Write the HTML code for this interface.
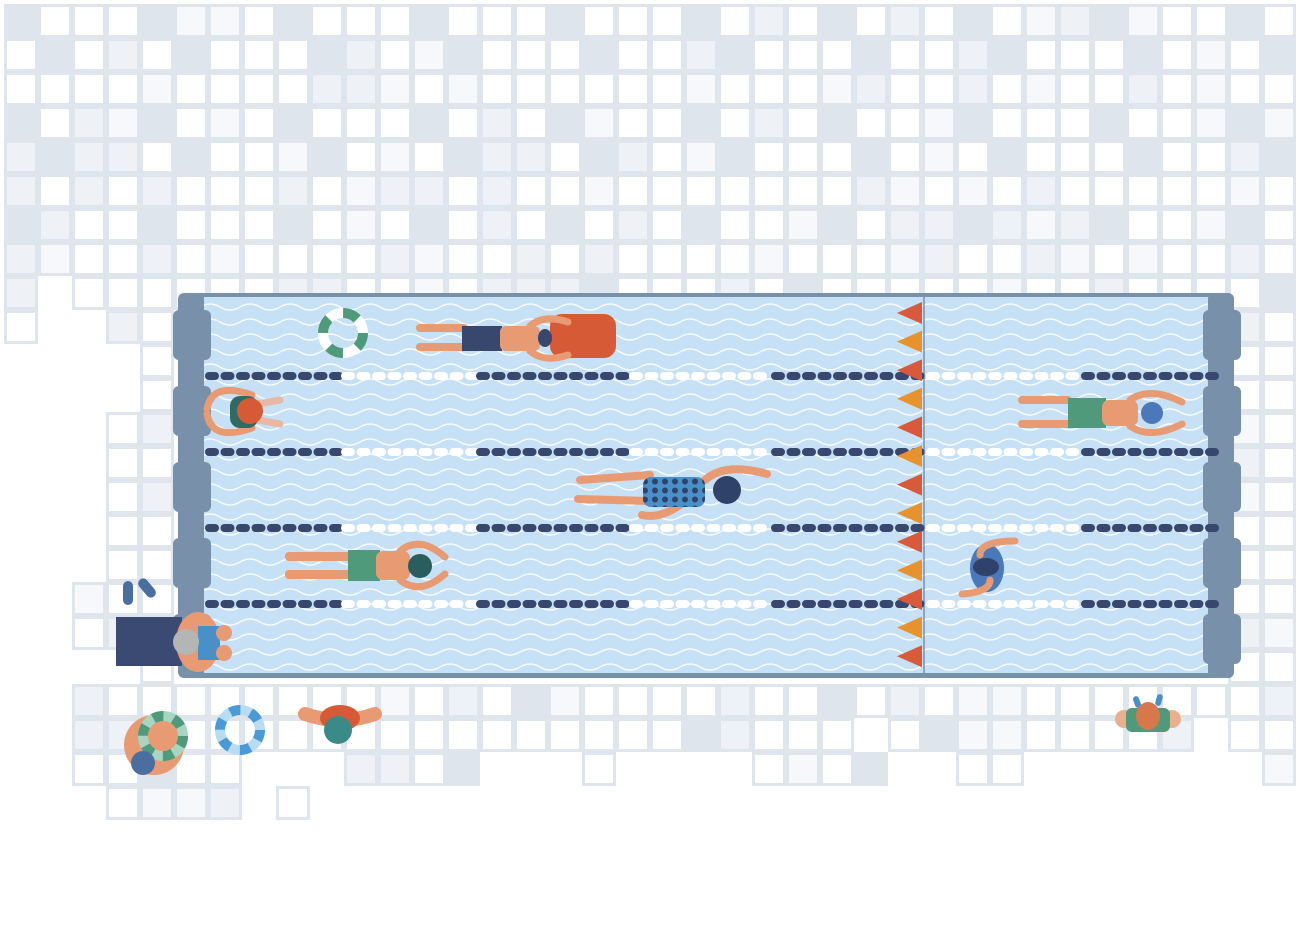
<!DOCTYPE html>
<html><head><meta charset="utf-8"><style>
html,body{margin:0;padding:0;background:#fff;width:1300px;height:951px;overflow:hidden}
svg{display:block}
</style></head><body>
<svg id="s" width="1300" height="951" viewBox="0 0 1300 951" xmlns="http://www.w3.org/2000/svg">
<defs>
<pattern id="wave" x="0" y="300" width="40" height="15" patternUnits="userSpaceOnUse">
<path d="M0 7 q10 -6 20 0 t20 0" fill="none" stroke="#fff" stroke-width="1.4" opacity="0.9"/>
</pattern>
<pattern id="dots" width="10" height="9" patternUnits="userSpaceOnUse">
<rect width="10" height="9" fill="#4a90c8"/><circle cx="5" cy="4.5" r="3" fill="#2f4269"/>
</pattern>
</defs>
<g id="tiles"></g>
<rect x="178" y="293" width="1056" height="385" rx="6" fill="#7890aa"/>
<rect x="204" y="297" width="1005" height="376" fill="#c6e0f5"/>
<rect x="204" y="297" width="1005" height="376" fill="url(#wave)"/>
<line x1="924" y1="297" x2="924" y2="673" stroke="#7890aa" stroke-width="1.5"/>
<g id="bump" fill="#7890aa"></g>
<g id="ropes"></g>
<g id="flags"></g>
<circle cx="343" cy="333" r="20" fill="none" stroke="#fff" stroke-width="10"/>
<circle cx="343" cy="333" r="20" fill="none" stroke="#4e9a7a" stroke-width="10" stroke-dasharray="15.7 15.7"/>
<g>
<rect x="550" y="314" width="66" height="44" rx="12" fill="#d65a36"/>
<rect x="416" y="324" width="52" height="8" rx="4" fill="#e89a72"/>
<rect x="416" y="343" width="52" height="8" rx="4" fill="#e89a72"/>
<rect x="462" y="326" width="40" height="25" fill="#37476e"/>
<rect x="500" y="326" width="40" height="25" rx="6" fill="#e89a72"/>
<path d="M530 326 q14 -12 38 -4 M530 351 q14 12 38 4" stroke="#e89a72" stroke-width="7" fill="none" stroke-linecap="round"/>
<ellipse cx="545" cy="338" rx="7" ry="9" fill="#37476e"/>
</g>
<g>
<path d="M252 395 q-40 -14 -45 14 M252 428 q-40 14 -45 -14" stroke="#e89a72" stroke-width="7" fill="none" stroke-linecap="round"/>
<path d="M258 404 l22 -4 M258 420 l22 4" stroke="#e8b8a4" stroke-width="7" stroke-linecap="round"/>
<rect x="230" y="396" width="28" height="32" rx="10" fill="#2f6b60"/>
<circle cx="250" cy="411" r="13" fill="#d65a36"/>
</g>
<g>
<rect x="1018" y="396" width="54" height="8" rx="4" fill="#e89a72"/>
<rect x="1018" y="420" width="54" height="8" rx="4" fill="#e89a72"/>
<rect x="1068" y="398" width="38" height="30" fill="#4e9a7a"/>
<rect x="1102" y="400" width="36" height="26" rx="7" fill="#e89a72"/>
<path d="M1130 400 q20 -14 52 2 M1130 426 q20 14 52 -2" stroke="#e89a72" stroke-width="7" fill="none" stroke-linecap="round"/>
<circle cx="1152" cy="413" r="11" fill="#4a78b8"/>
</g>
<g>
<path d="M580 480 l70 -5 M578 499 l70 2" stroke="#e89a72" stroke-width="8" stroke-linecap="round"/>
<path d="M705 480 q20 -18 62 -6 M680 505 q-20 14 -38 10" stroke="#e89a72" stroke-width="8" fill="none" stroke-linecap="round"/>
<rect x="643" y="477" width="62" height="30" rx="8" fill="url(#dots)"/>
<circle cx="727" cy="490" r="14" fill="#2f4269"/>
</g>
<g>
<rect x="285" y="552" width="68" height="9" rx="4" fill="#e89a72"/>
<rect x="285" y="570" width="68" height="9" rx="4" fill="#e89a72"/>
<rect x="348" y="550" width="32" height="31" fill="#4e9a7a"/>
<rect x="376" y="551" width="34" height="29" rx="7" fill="#e89a72"/>
<path d="M400 551 q20 -16 45 6 M400 580 q20 16 45 -6" stroke="#e89a72" stroke-width="7" fill="none" stroke-linecap="round"/>
<circle cx="420" cy="566" r="12" fill="#2a5d5d"/>
</g>
<g>
<ellipse cx="987" cy="568" rx="17" ry="24" fill="#4a78b8"/>
<path d="M980 555 q0 -14 35 -14 M990 580 q0 12 -28 14" stroke="#e89a72" stroke-width="7" fill="none" stroke-linecap="round"/>
<ellipse cx="986" cy="567" rx="13" ry="9" fill="#2f4269"/>
</g>
<rect x="116" y="617" width="66" height="49" fill="#3a4a72"/>
<g>
<ellipse cx="198" cy="642" rx="22" ry="30" fill="#e89a72"/>
<rect x="198" y="626" width="22" height="34" fill="#4a90c8"/>
<circle cx="224" cy="633" r="8" fill="#e89a72"/><circle cx="224" cy="653" r="8" fill="#e89a72"/>
<circle cx="186" cy="642" r="13" fill="#b4b6b6"/>
</g>
<rect x="123" y="581" width="10" height="24" rx="5" fill="#4a6ea0"/>
<rect x="142" y="577" width="10" height="22" rx="5" fill="#4a6ea0" transform="rotate(-40 147 588)"/>
<circle cx="154" cy="745" r="30" fill="#e89a72"/>
<circle cx="163" cy="736" r="20" fill="none" stroke="#a8d5c2" stroke-width="10"/>
<circle cx="163" cy="736" r="20" fill="none" stroke="#4e9a7a" stroke-width="10" stroke-dasharray="10.5 10.5"/>
<circle cx="143" cy="763" r="12" fill="#4a6ea0"/>
<circle cx="240" cy="730" r="20" fill="none" stroke="#b8dcf2" stroke-width="10"/>
<circle cx="240" cy="730" r="20" fill="none" stroke="#4a9ad8" stroke-width="10" stroke-dasharray="10.5 10.5"/>
<path d="M305 714 q35 12 70 0" stroke="#e89a72" stroke-width="14" fill="none" stroke-linecap="round"/>
<ellipse cx="340" cy="718" rx="20" ry="13" fill="#d65a36"/>
<circle cx="338" cy="730" r="14" fill="#3a8a88"/>
<rect x="1134" y="696" width="6" height="12" rx="3" fill="#4a90c8" transform="rotate(-20 1137 702)"/>
<rect x="1156" y="694" width="6" height="12" rx="3" fill="#4a90c8" transform="rotate(15 1159 700)"/>
<ellipse cx="1124" cy="719" rx="9" ry="9" fill="#e8b08c"/><ellipse cx="1172" cy="719" rx="9" ry="9" fill="#e8b08c"/>
<rect x="1126" y="708" width="44" height="24" rx="6" fill="#4e9a7a"/>
<ellipse cx="1148" cy="716" rx="12" ry="14" fill="#d8784a"/>
</svg>
<script>
(function(){
var NS="http://www.w3.org/2000/svg";
function el(p,t,a){var e=document.createElementNS(NS,t);for(var k in a)e.setAttribute(k,a[k]);p.appendChild(e);return e;}
var tg=document.getElementById('tiles');
var cells={};
for(var r=0;r<8;r++)for(var c=0;c<38;c++)cells[r+','+c]=1;
for(var c=0;c<38;c++)if(c!=1)cells['8,'+c]=1;
cells['9,0']=1;cells['9,3']=1;
for(var r=9;r<=20;r++){cells[r+',36']=1;cells[r+',37']=1;cells[r+',4']=1;}
for(var r=12;r<=18;r++){cells[r+',3']=1;}
cells['17,2']=1;cells['18,2']=1;
for(var c=2;c<=37;c++)cells['20,'+c]=1;
for(var c=2;c<=14;c++)cells['21,'+c]=1;
for(var c=15;c<=24;c++)cells['21,'+c]=1;
for(var c=26;c<=34;c++)cells['21,'+c]=1;
cells['21,36']=1;cells['21,37']=1;
for(var c=2;c<=6;c++)cells['22,'+c]=1;
[10,11,12,13,17,22,23,24,25,28,29,37].forEach(function(c){cells['22,'+c]=1;});
[3,4,5,6,8].forEach(function(c){cells['23,'+c]=1;});
function hash(a,b){var h=(a*374761393+b*668265263)>>>0;h=((h^(h>>>13))*1274126177)>>>0;return (h^(h>>>16))%100;}
for(var k in cells){var p=k.split(','),r=+p[0],c=+p[1];
var x=4+34*c,y=4+34*r;
var v=hash(r,c),col;
if(r<8){ if((r%3==0&&c%4==0)||(r%3==1&&c%4==1&&r!=7)) col='#dfe5ed'; else col=v<40?'#ffffff':v<75?'#eef1f6':'#f6f8fb'; }
else col=v<45?'#ffffff':v<75?'#eef1f6':v<88?'#f6f8fb':'#dfe5ed';
el(tg,'rect',{x:x,y:y,width:34,height:34,fill:'#dfe5ed'});
el(tg,'rect',{x:x+3,y:y+3,width:28,height:28,fill:col});}
var b=document.getElementById('bump');
[310,386,462,538,614].forEach(function(y){
el(b,'rect',{x:173,y:y,width:38,height:50,rx:6});
el(b,'rect',{x:1203,y:y,width:38,height:50,rx:6});});
el(b,'rect',{x:1208,y:293,width:26,height:385,rx:6});
var rg=document.getElementById('ropes');
var segs=[[204,340,'#37476e'],[340,475,'#fff'],[475,628,'#37476e'],[628,770,'#fff'],[770,925,'#37476e'],[925,1080,'#fff'],[1080,1210,'#37476e']];
[376,452,528,604].forEach(function(y){
segs.forEach(function(s){for(var x=s[0]+1;x<s[1]-4;x+=15.5){el(rg,'rect',{x:x,y:y-4,width:14,height:8,rx:4,fill:s[2]});}});});
var fg=document.getElementById('flags');
for(var i=0;i<13;i++){var y=313+i*28.6;
el(fg,'polygon',{points:'897,'+y+' 922,'+(y-11)+' 922,'+(y+11),fill:i%2?'#e8922e':'#d95a3a'});}
})();
</script>
</body></html>
